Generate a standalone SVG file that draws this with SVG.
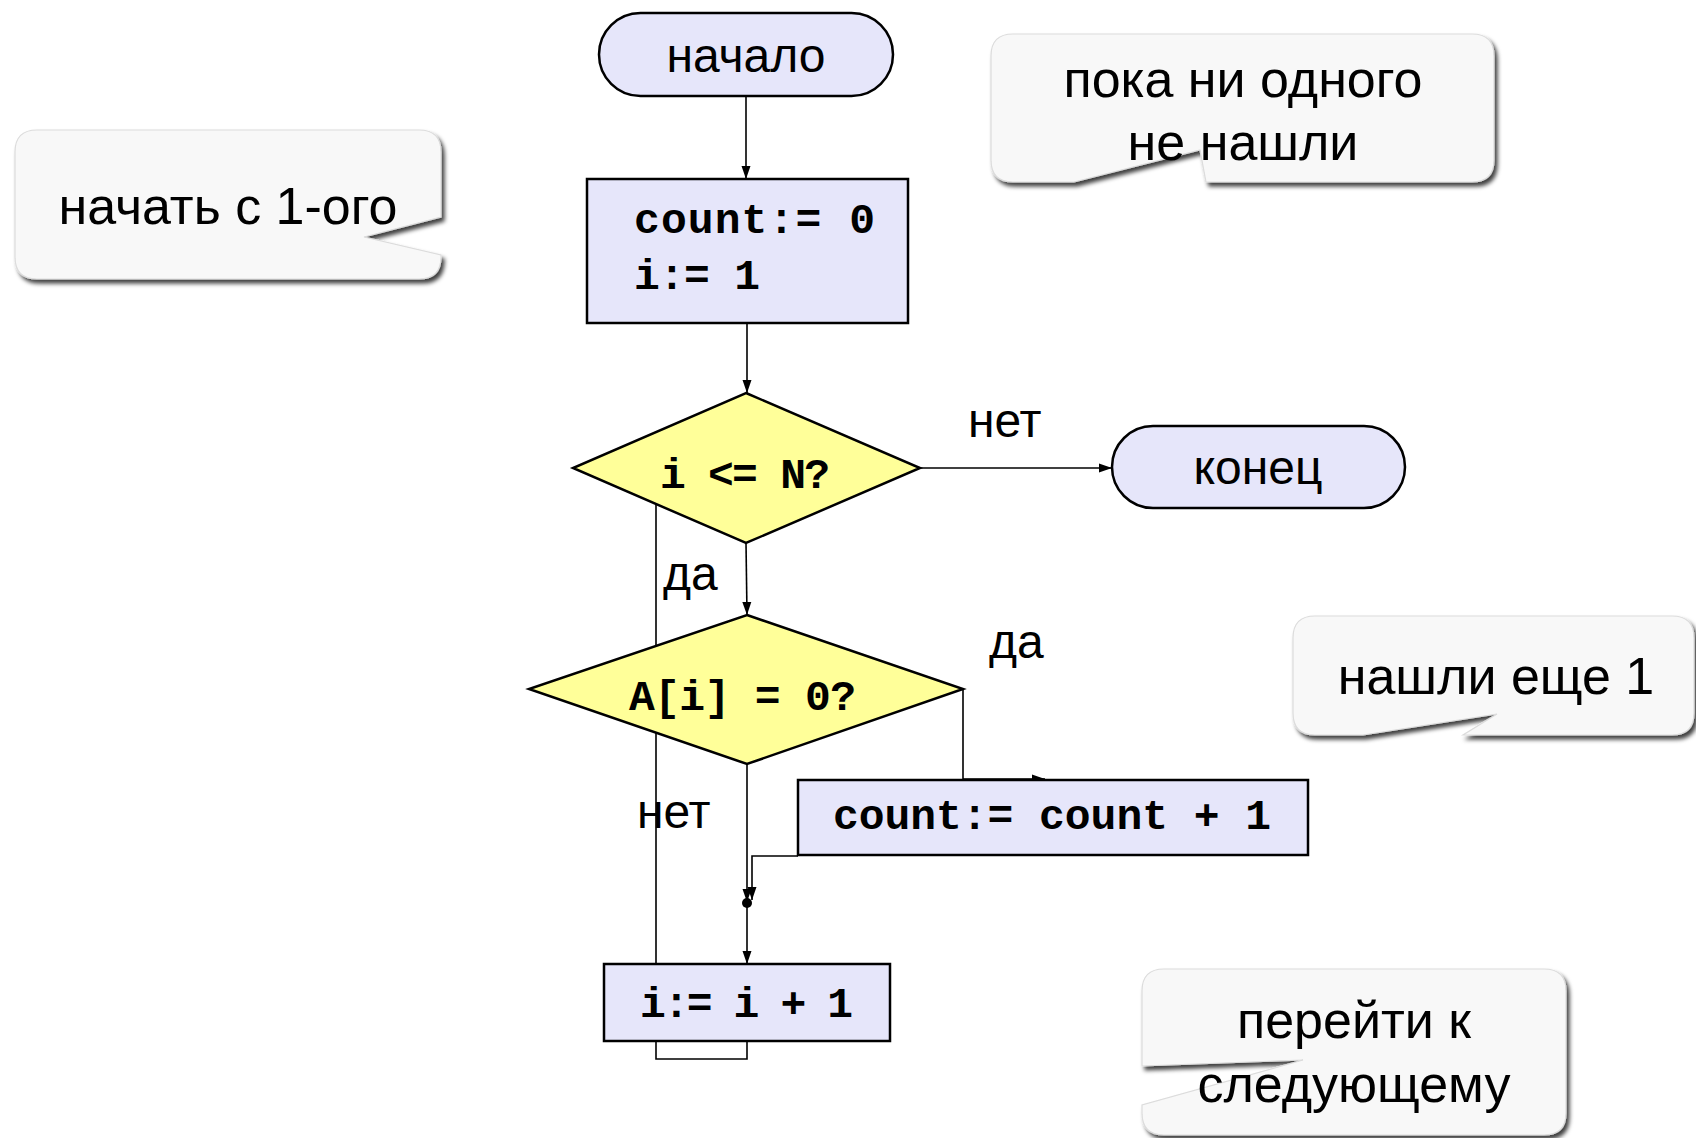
<svg xmlns="http://www.w3.org/2000/svg" width="1696" height="1138" viewBox="0 0 1696 1138">
<style>
.term{fill:#e6e6fa;stroke:#000;stroke-width:2.5}
.proc{fill:#e6e6fa;stroke:#000;stroke-width:2.5}
.dec{fill:#ffff99;stroke:#000;stroke-width:2.5}
.conn{fill:none;stroke:#000;stroke-width:1.6}
.sans{font-family:"Liberation Sans",Arial,sans-serif;font-size:48px;fill:#000}
.mono{font-family:"Liberation Mono","Courier New",monospace;font-size:43px;font-weight:bold;fill:#000}
.call{fill:#f8f8f8;stroke:#dcdcdc;stroke-width:1.2;filter:url(#sh)}
.ctext{font-family:"Liberation Sans",Arial,sans-serif;font-size:52px;fill:#000;text-anchor:middle}
</style>
<defs>
<marker id="arr" markerUnits="userSpaceOnUse" markerWidth="13" markerHeight="10" refX="13" refY="5" orient="auto">
<path d="M0,0.5 L13,5 L0,9.5 z" fill="#000"/>
</marker>
<filter id="sh" x="-5%" y="-5%" width="115%" height="125%">
<feDropShadow dx="3" dy="4" stdDeviation="2" flood-color="#000" flood-opacity="0.75"/>
</filter>
</defs>
<rect width="1696" height="1138" fill="#fff"/>

<g id="labels">
<text class="sans" x="968" y="437">нет</text>
<text class="sans" x="663" y="590">да</text>
<text class="sans" x="989" y="658">да</text>
<text class="sans" x="637" y="828">нет</text>
</g>

<g id="connectors">
<line class="conn" x1="746" y1="96" x2="746" y2="179" marker-end="url(#arr)"/>
<line class="conn" x1="747" y1="323" x2="747" y2="393" marker-end="url(#arr)"/>
<line class="conn" x1="920" y1="468" x2="1112" y2="468" marker-end="url(#arr)"/>
<line class="conn" x1="746" y1="543" x2="747" y2="615" marker-end="url(#arr)"/>
<polyline class="conn" points="963,689 963,779 1045,779" marker-end="url(#arr)"/>
<line class="conn" x1="747" y1="764" x2="747" y2="902" marker-end="url(#arr)"/>
<polyline class="conn" points="798,856 752,856 752,900" marker-end="url(#arr)"/>
<line class="conn" x1="747" y1="903" x2="747" y2="964" marker-end="url(#arr)"/>
<polyline class="conn" points="747,1041 747,1059 656,1059 656,480"/>
<circle cx="747" cy="903" r="5" fill="#000"/>
</g>

<g id="start">
<rect class="term" x="599" y="13" width="294" height="83" rx="41.5"/>
<text class="sans" x="746" y="72" text-anchor="middle">начало</text>
</g>

<g id="init">
<rect class="proc" x="587" y="179" width="321" height="144"/>
<text class="mono" x="634" y="233" textLength="241" lengthAdjust="spacing">count:= 0</text>
<text class="mono" x="634" y="289" textLength="126" lengthAdjust="spacing">i:= 1</text>
</g>

<g id="cond1">
<polygon class="dec" points="746,393 920,468 746,543 573,468"/>
<text class="mono" x="660" y="488" textLength="170" lengthAdjust="spacing">i &lt;= N?</text>
</g>

<g id="end">
<rect class="term" x="1112" y="426" width="293" height="82" rx="41"/>
<text class="sans" x="1258" y="484" text-anchor="middle">конец</text>
</g>

<g id="cond2">
<polygon class="dec" points="747,615 963,689 747,764 529,689"/>
<text class="mono" x="629" y="710" textLength="227" lengthAdjust="spacing">A[i] = 0?</text>
</g>

<g id="inc-count">
<rect class="proc" x="798" y="780" width="510" height="75"/>
<text class="mono" x="833" y="829" textLength="438" lengthAdjust="spacing">count:= count + 1</text>
</g>

<g id="inc-i">
<rect class="proc" x="604" y="964" width="286" height="77"/>
<text class="mono" x="640" y="1017" textLength="213" lengthAdjust="spacing">i:= i + 1</text>
</g>

<g id="note1">
<path class="call" d="M37,130 H419 Q441,130 441,152 V217 L364,237 L441,255 V257 Q441,279 419,279 H37 Q15,279 15,257 V152 Q15,130 37,130 Z"/>
<text class="ctext" x="228" y="224">начать с 1-ого</text>
</g>

<g id="note2">
<path class="call" d="M1013,34 H1472 Q1494,34 1494,56 V160 Q1494,182 1472,182 H1206 L1200,150 L1074,182 H1013 Q991,182 991,160 V56 Q991,34 1013,34 Z"/>
<text class="ctext" x="1243" y="97">пока ни одного</text>
<text class="ctext" x="1243" y="160">не нашли</text>
</g>

<g id="note3">
<path class="call" d="M1315,616 H1672 Q1694,616 1694,638 V713 Q1694,735 1672,735 H1463 L1497,714 L1363,735 H1315 Q1293,735 1293,713 V638 Q1293,616 1315,616 Z"/>
<text class="ctext" x="1496" y="694">нашли еще 1</text>
</g>

<g id="note4">
<path class="call" d="M1164,969 H1544 Q1566,969 1566,991 V1113 Q1566,1135 1544,1135 H1164 Q1142,1135 1142,1113 V1105 L1303,1060 L1142,1066 V991 Q1142,969 1164,969 Z"/>
<text class="ctext" x="1354" y="1038">перейти к</text>
<text class="ctext" x="1354" y="1102">следующему</text>
</g>
</svg>
